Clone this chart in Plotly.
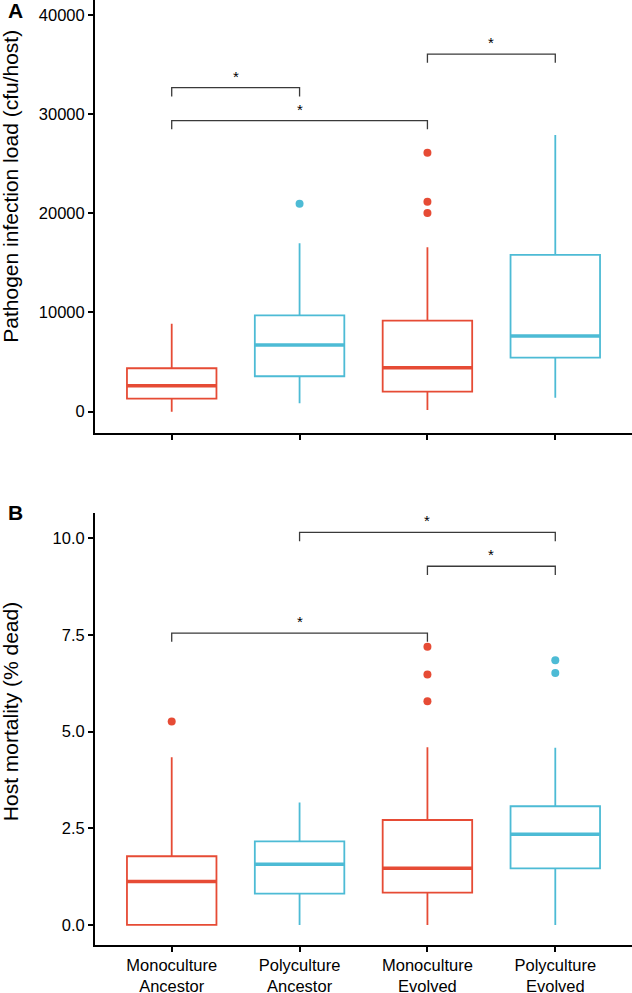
import plotly.graph_objects as go

# ---------------- data ----------------
categories = ["Monoculture<br>Ancestor", "Polyculture<br>Ancestor",
              "Monoculture<br>Evolved", "Polyculture<br>Evolved"]
group_colors = ["#E64B35", "#4DBBD5", "#E64B35", "#4DBBD5"]

# Panel A: pathogen infection load (cfu/host)
load_low = [0, 850, 170, 1410]
load_q1 = [1310, 3570, 2015, 5445]
load_med = [2620, 6725, 4435, 7630]
load_q3 = [4375, 9700, 9175, 15800]
load_high = [8850, 16975, 16570, 27890]
load_outliers = [[], [20970], [26110, 21170, 20030], []]

# Panel B: host mortality (% dead)
mort_low = [0, 0, 0, 0]
mort_q1 = [0, 0.81, 0.835, 1.465]
mort_med = [1.12, 1.57, 1.465, 2.345]
mort_q3 = [1.777, 2.16, 2.715, 3.07]
mort_high = [4.34, 3.17, 4.595, 4.585]
mort_outliers = [[5.26], [], [7.20, 6.48, 5.79], [6.845, 6.52]]

# significance brackets
load_br_left = [0, 0, 2]
load_br_right = [1, 2, 3]
load_br_y = [32660, 29335, 36050]
load_br_label = ["*", "*", "*"]

mort_br_left = [1, 2, 0]
mort_br_right = [3, 3, 2]
mort_br_y = [10.155, 9.28, 7.55]
mort_br_label = ["*", "*", "*"]

load_ticks = [0, 10000, 20000, 30000, 40000]
load_ticktext = ["0", "10000", "20000", "30000", "40000"]
mort_ticks = [0, 2.5, 5, 7.5, 10]
mort_ticktext = ["0.0", "2.5", "5.0", "7.5", "10.0"]

# ---------------- figure ----------------
FONT = "Liberation Sans, Arial, Helvetica, sans-serif"
BOX_W = 0.7
fig = go.Figure()


def add_panel(xa, ya, low, q1, med, q3, high, outliers, brl, brr, bry, brlab, drop):
    for i in range(len(categories)):
        c = group_colors[i]
        fig.add_trace(go.Box(
            x=[i], q1=[q1[i]], median=[med[i]], q3=[q3[i]],
            lowerfence=[low[i]], upperfence=[high[i]],
            width=BOX_W, whiskerwidth=0, boxpoints=False,
            line=dict(color=c, width=1.8), fillcolor="rgba(0,0,0,0)",
            xaxis=xa, yaxis=ya, showlegend=False, hoverinfo="skip"))
        fig.add_trace(go.Scatter(
            x=[i - BOX_W / 2, i + BOX_W / 2], y=[med[i], med[i]], mode="lines",
            line=dict(color=c, width=3.5), xaxis=xa, yaxis=ya,
            showlegend=False, hoverinfo="skip"))
        if outliers[i]:
            fig.add_trace(go.Scatter(
                x=[i] * len(outliers[i]), y=outliers[i], mode="markers",
                marker=dict(color=c, size=8), xaxis=xa, yaxis=ya,
                showlegend=False, hoverinfo="skip"))
    for l, r, y, lab in zip(brl, brr, bry, brlab):
        fig.add_trace(go.Scatter(
            x=[l, l, r, r], y=[y - drop, y, y, y - drop], mode="lines",
            line=dict(color="#3a3a3a", width=1.3), xaxis=xa, yaxis=ya,
            showlegend=False, hoverinfo="skip"))
        fig.add_annotation(x=(l + r) / 2, y=y, xref=xa, yref=ya, text=lab,
                           showarrow=False, yanchor="bottom", yshift=1,
                           font=dict(family=FONT, size=15, color="black"))


add_panel("x", "y", load_low, load_q1, load_med, load_q3, load_high, load_outliers,
          load_br_left, load_br_right, load_br_y, load_br_label, 877)
add_panel("x2", "y2", mort_low, mort_q1, mort_med, mort_q3, mort_high, mort_outliers,
          mort_br_left, mort_br_right, mort_br_y, mort_br_label, 0.225)

axis_common = dict(showline=True, linecolor="black", linewidth=2, ticks="outside",
                   ticklen=5, tickwidth=1.8, tickcolor="black", showgrid=False,
                   zeroline=False, tickfont=dict(family=FONT, size=16.5, color="black"))

fig.update_layout(
    width=632, height=993,
    margin=dict(l=95, r=0, t=0, b=48, autoexpand=False),
    paper_bgcolor="white", plot_bgcolor="white",
    xaxis=dict(domain=[0, 1], range=[-0.6, 3.6], anchor="y", tickvals=[0, 1, 2, 3],
               showticklabels=False, **axis_common),
    yaxis=dict(domain=[0.5415, 1], range=[-2180, 41500], anchor="x",
               tickvals=load_ticks, ticktext=load_ticktext, **axis_common),
    xaxis2=dict(domain=[0, 1], range=[-0.6, 3.6], anchor="y2", tickvals=[0, 1, 2, 3],
                ticktext=categories, ticklabelstandoff=-1, **axis_common),
    yaxis2=dict(domain=[0, 0.4568], range=[-0.52, 10.65], anchor="x2",
                tickvals=mort_ticks, ticktext=mort_ticktext, **axis_common),
    showlegend=False,
)

# axis titles and panel labels
fig.add_annotation(text="Pathogen infection load (cfu/host)", xref="paper", yref="paper",
                   x=-0.157, y=(945 - 186) / 945, textangle=-90, showarrow=False,
                   xanchor="center", yanchor="middle",
                   font=dict(family=FONT, size=21, color="black"))
fig.add_annotation(text="Host mortality (% dead)", xref="paper", yref="paper",
                   x=-0.157, y=(945 - 711.5) / 945, textangle=-90, showarrow=False,
                   xanchor="center", yanchor="middle",
                   font=dict(family=FONT, size=21, color="black"))
fig.add_annotation(text="<b>A</b>", xref="paper", yref="paper",
                   x=-0.148, y=0.9884, showarrow=False, xanchor="center", yanchor="middle",
                   font=dict(family=FONT, size=21, color="black"))
fig.add_annotation(text="<b>B</b>", xref="paper", yref="paper",
                   x=-0.148, y=0.4577, showarrow=False, xanchor="center", yanchor="middle",
                   font=dict(family=FONT, size=21, color="black"))

fig.write_html("out.html", config={"displayModeBar": False},
               post_script="document.body.style.margin='0px';")
